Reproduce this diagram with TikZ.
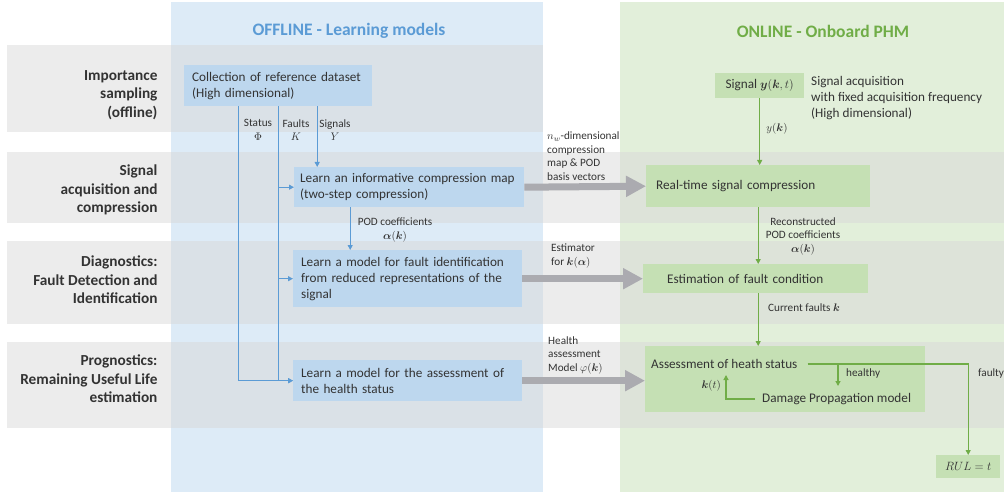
\documentclass[tikz,border=0pt]{standalone}
\usepackage{fontspec}
\setmainfont{Carlito}
\usepackage{bm}
\usetikzlibrary{arrows.meta}

\definecolor{offbg}{HTML}{DDEBF7}
\definecolor{onbg}{HTML}{E2EFDA}
\definecolor{offfill}{HTML}{BDD7EE}
\definecolor{onfill}{HTML}{C5E0B4}
\definecolor{offline}{HTML}{5B9BD5}
\definecolor{online}{HTML}{70AD47}
\definecolor{rowgray}{HTML}{D9D9D9}
\definecolor{bigarr}{HTML}{ABABB0}
\definecolor{txt}{HTML}{333333}

\begin{document}
\begin{tikzpicture}[x=1pt,y=-1pt,
  head/.style={anchor=east,align=right,text=txt,font=\fontsize{15.3}{18.5}\selectfont\bfseries},
  title/.style={font=\fontsize{17.5}{20}\selectfont\bfseries},
  offbox/.style={anchor=north west,fill=offfill,text=txt,align=left,inner ysep=0pt,font=\fontsize{13.2}{16}\selectfont},
  onbox/.style={anchor=north west,fill=onfill,text=txt,align=left,inner ysep=0pt,font=\fontsize{13.2}{16}\selectfont},
  lbl/.style={text=txt,inner sep=0pt,font=\fontsize{11.2}{13.5}\selectfont},
  offarrow/.style={draw=offline,line width=1.1pt,-{Triangle[length=5pt,width=5pt]}},
  onarrow/.style={draw=online,line width=1.1pt,-{Triangle[length=5pt,width=5pt]}},
  bigarrow/.style={draw=bigarr,line width=7pt,-{Triangle[length=20pt,width=20pt]}}]

  \useasboundingbox (0,0) rectangle (1004,492);

  % columns and rows
  \fill[offbg] (171,2) rectangle (543,492);
  \fill[onbg] (620,2) rectangle (1004,492);
  \fill[rowgray,opacity=0.5] (7,45) rectangle (543,132);
  \fill[rowgray,opacity=0.5] (7,152) rectangle (1004,223);
  \fill[rowgray,opacity=0.5] (7,241) rectangle (1004,324);
  \fill[rowgray,opacity=0.5] (7,342) rectangle (1004,428);

  \node[title,text=offline] (offtitle) at (349,31) {OFFLINE - Learning models};
  \node[title,text=online] (ontitle) at (823,31) {ONLINE - Onboard PHM};

  \node[head] (h1) at (161,95) {Importance\\sampling\\(offline)};
  \node[head] (h2) at (161,190) {Signal\\acquisition and\\compression};
  \node[head] (h3) at (161,280) {Diagnostics:\\Fault Detection and\\Identification};
  \node[head] (h4) at (161,379) {Prognostics:\\Remaining Useful Life\\estimation};

  % offline
  \node[offbox,inner xsep=8pt,text width=172pt,minimum height=41pt] (coll) at (184,65)
    {Collection of reference dataset\\(High dimensional)};
  \node[offbox,inner xsep=6pt,text width=218pt,minimum height=40pt] (comp) at (294,167)
    {Learn an informative compression map\\(two-step compression)};
  \node[offbox,inner xsep=8pt,text width=213pt,minimum height=57pt] (fault) at (293,250)
    {Learn a model for fault identification\\from reduced representations of the\\signal};
  \node[offbox,inner xsep=8pt,text width=213pt,minimum height=41pt] (health) at (293,360)
    {Learn a model for the assessment of\\the health status};

  \draw[offarrow] ([xshift=-40pt]coll.south) |- (health.west);
  \draw[offarrow] (coll.south) |- (health.west);
  \draw[offarrow] (coll.south |- comp.west) -- (comp.west);
  \draw[offarrow] (coll.south |- fault.west) -- (fault.west);
  \draw[offarrow] ([xshift=39pt]coll.south) -- ([xshift=39pt]coll.south |- comp.north);
  \draw[offarrow] ([xshift=-59pt]comp.south) -- ([xshift=-59pt]comp.south |- fault.north);

  \node[lbl,align=center] (status) at (258,130) {Status\\$\Phi$};
  \node[lbl,align=center] (faults) at (296,130) {Faults\\$K$};
  \node[lbl,align=center] (signals) at (335,130) {Signals\\$Y$};
  \node[lbl,align=center] (podc) at (395,230) {POD coefficients\\$\bm{\alpha}(\bm{k})$};

  % online
  \node[onbox,align=center,inner xsep=0pt,minimum width=89pt,minimum height=25pt] (sig) at (715,73)
    {Signal $\bm{y}(\bm{k},t)$};
  \node[onbox,inner xsep=10pt,text width=204pt,minimum height=42pt] (rt) at (646,165)
    {Real-time signal compression};
  \node[onbox,inner xsep=24pt,text width=177pt,minimum height=29pt] (est) at (643,264)
    {Estimation of fault condition};
  \node[onbox,inner sep=0pt,minimum width=280pt,minimum height=66pt] (ass) at (645,346) {};
  \node[onbox,align=center,inner sep=0pt,minimum width=64pt,minimum height=23pt] (rul) at (936,455)
    {$RUL=t$};

  \node[lbl,anchor=west,align=left,font=\fontsize{13.2}{16}\selectfont] (acq) at (811,98)
    {Signal acquisition\\with fixed acquisition frequency\\(High dimensional)};
  \node[lbl,anchor=west,font=\fontsize{13.2}{16}\selectfont] (asst) at (651,364) {Assessment of heath status};
  \node[lbl,anchor=west,font=\fontsize{13.2}{16}\selectfont] (dmg) at (762,399) {Damage Propagation model};

  \draw[onarrow] (sig.south) -- (sig.south |- rt.north);
  \draw[onarrow] (rt.south) -- (rt.south |- est.north);
  \draw[onarrow] (rt.south |- est.south) -- (rt.south |- ass.north);
  \draw[onarrow] ([xshift=10pt]asst.east) -| (rul.north);
  \coordinate (hsplit) at (838,364);
  \coordinate (hend) at (838,386);
  \draw[onarrow] (hsplit) -- (hend);
  \coordinate (kup) at (726,375);
  \draw[onarrow] ([xshift=-7pt]dmg.west) -| (kup);

  \node[lbl] (yk) at (777,129) {$y(\bm{k})$};
  \node[lbl,align=center] (recon) at (803,236) {Reconstructed\\POD coefficients\\$\bm{\alpha}(\bm{k})$};
  \node[lbl,anchor=west] (curf) at (768,308) {Current faults $\bm{k}$};
  \node[lbl,anchor=west] (healthy) at (846,374) {healthy};
  \node[lbl,anchor=west] (faulty) at (978,374) {faulty};
  \node[lbl,anchor=east] (kt) at (721,386) {$\bm{k}(t)$};

  % transfer offline -> online
  \draw[bigarrow] (comp.east) -- (rt.west);
  \draw[bigarrow] (fault.east) -- (est.west);
  \draw[bigarrow] (health.east) -- (health.east -| ass.west);

  \node[lbl,anchor=west,align=left] (mapl) at (547,156) {$n_w$-dimensional\\compression\\map \& POD\\basis vectors};
  \node[lbl,anchor=west,align=left] (estl) at (551,256) {Estimator\\for $\bm{k}(\bm{\alpha})$};
  \node[lbl,anchor=west,align=left] (hal) at (548,355) {Health\\assessment\\Model $\varphi(\bm{k})$};
\end{tikzpicture}
\end{document}
